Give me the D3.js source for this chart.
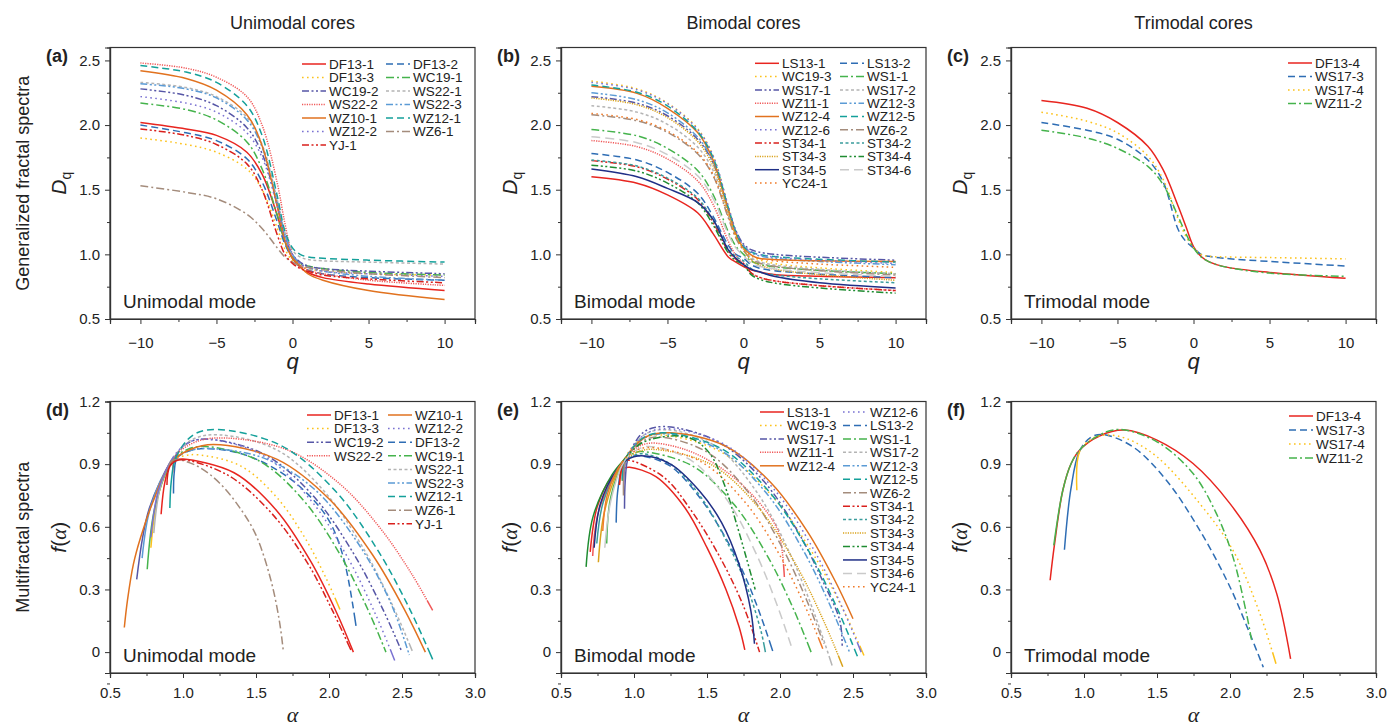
<!DOCTYPE html>
<html>
<head>
<meta charset="utf-8">
<script src="https://cdn.jsdelivr.net/npm/d3@7"></script>
<style>
body { margin: 0; background: #fff; }
svg { font-family: "Liberation Sans", Arial, sans-serif; }
.axis path, .axis line { stroke: #333; }
.axis text { font-size: 15px; fill: #222; font-family: "Liberation Sans", Arial, sans-serif; }
</style>
</head>
<body>
<script>
var qGrid = [-10, -7, -5, -3, -2, -1, -0.5, 0, 0.5, 1, 2, 5, 10];

// ---- generalized dimensions D(q) ----
var uniNames = ["DF13-1", "DF13-2", "DF13-3", "WC19-1", "WC19-2", "WS22-1", "WS22-2",
	"WS22-3", "WZ10-1", "WZ12-1", "WZ12-2", "WZ6-1", "YJ-1"];
var uniDq = [
	[2.02, 1.97, 1.92, 1.79, 1.62, 1.30, 1.10, 0.97, 0.90, 0.86, 0.82, 0.77, 0.72],
	[2.00, 1.94, 1.88, 1.74, 1.56, 1.25, 1.08, 0.97, 0.91, 0.88, 0.85, 0.82, 0.80],
	[1.90, 1.85, 1.79, 1.66, 1.50, 1.20, 1.04, 0.95, 0.91, 0.89, 0.87, 0.85, 0.84],
	[2.17, 2.12, 2.04, 1.87, 1.66, 1.30, 1.10, 0.98, 0.93, 0.91, 0.89, 0.86, 0.84],
	[2.28, 2.23, 2.15, 1.98, 1.78, 1.38, 1.14, 1.00, 0.94, 0.91, 0.89, 0.87, 0.85],
	[2.33, 2.29, 2.22, 2.06, 1.85, 1.42, 1.17, 1.03, 0.98, 0.96, 0.95, 0.94, 0.925],
	[2.48, 2.44, 2.37, 2.22, 2.00, 1.55, 1.24, 1.00, 0.92, 0.88, 0.85, 0.80, 0.76],
	[2.32, 2.28, 2.21, 2.04, 1.83, 1.40, 1.15, 1.00, 0.93, 0.90, 0.87, 0.83, 0.80],
	[2.42, 2.36, 2.27, 2.08, 1.84, 1.37, 1.11, 0.97, 0.91, 0.85, 0.80, 0.72, 0.65],
	[2.46, 2.41, 2.33, 2.15, 1.92, 1.45, 1.18, 1.05, 1.00, 0.98, 0.97, 0.955, 0.94],
	[2.22, 2.17, 2.10, 1.94, 1.75, 1.37, 1.13, 1.00, 0.93, 0.90, 0.87, 0.85, 0.83],
	[1.53, 1.48, 1.43, 1.31, 1.20, 1.05, 0.98, 0.94, 0.91, 0.90, 0.88, 0.85, 0.82],
	[1.97, 1.92, 1.85, 1.70, 1.50, 1.15, 1.00, 0.93, 0.89, 0.87, 0.84, 0.81, 0.78]
];

var biNames = ["LS13-1", "LS13-2", "WC19-3", "WS1-1", "WS17-1", "WS17-2", "WZ11-1", "WZ12-3",
	"WZ12-4", "WZ12-5", "WZ12-6", "WZ6-2", "ST34-1", "ST34-2", "ST34-3", "ST34-4", "ST34-5",
	"ST34-6", "YC24-1"];
var biDq = [
	[1.60, 1.55, 1.46, 1.32, 1.16, 0.98, 0.94, 0.906, 0.88, 0.865, 0.845, 0.83, 0.82],
	[1.78, 1.73, 1.634, 1.47, 1.294, 1.07, 1.00, 0.97, 0.92, 0.895, 0.874, 0.847, 0.82],
	[2.34, 2.28, 2.17, 1.97, 1.76, 1.37, 1.175, 1.06, 0.99, 0.96, 0.93, 0.895, 0.86],
	[1.965, 1.917, 1.82, 1.647, 1.463, 1.174, 1.063, 1.00, 0.948, 0.925, 0.904, 0.877, 0.85],
	[2.22, 2.169, 2.072, 1.889, 1.707, 1.354, 1.183, 1.08, 1.036, 1.018, 1.00, 0.978, 0.955],
	[2.15, 2.10, 2.006, 1.828, 1.65, 1.306, 1.14, 1.04, 0.974, 0.945, 0.918, 0.884, 0.85],
	[1.88, 1.833, 1.738, 1.567, 1.386, 1.101, 0.992, 0.93, 0.857, 0.825, 0.796, 0.758, 0.72],
	[2.25, 2.196, 2.095, 1.905, 1.715, 1.346, 1.167, 1.06, 1.011, 0.99, 0.97, 0.945, 0.92],
	[2.30, 2.245, 2.13, 1.94, 1.73, 1.345, 1.16, 1.05, 0.996, 0.97, 0.96, 0.95, 0.945],
	[2.31, 2.254, 2.148, 1.948, 1.748, 1.36, 1.173, 1.06, 1.018, 1.00, 0.983, 0.962, 0.94],
	[2.33, 2.273, 2.166, 1.965, 1.763, 1.372, 1.183, 1.07, 1.021, 1.00, 0.98, 0.955, 0.93],
	[2.08, 2.033, 1.944, 1.776, 1.608, 1.282, 1.125, 1.03, 0.964, 0.935, 0.908, 0.874, 0.84],
	[1.725, 1.677, 1.582, 1.423, 1.248, 1.025, 0.962, 0.93, 0.857, 0.825, 0.796, 0.758, 0.72],
	[1.73, 1.683, 1.59, 1.434, 1.262, 1.044, 0.981, 0.95, 0.89, 0.865, 0.841, 0.811, 0.78],
	[2.21, 2.157, 2.058, 1.871, 1.684, 1.321, 1.145, 1.04, 0.956, 0.92, 0.886, 0.843, 0.80],
	[1.69, 1.644, 1.551, 1.397, 1.228, 1.012, 0.951, 0.92, 0.843, 0.81, 0.779, 0.74, 0.70],
	[1.66, 1.60, 1.51, 1.40, 1.27, 1.035, 0.97, 0.92, 0.885, 0.867, 0.83, 0.78, 0.74],
	[1.91, 1.864, 1.772, 1.606, 1.432, 1.156, 1.05, 0.99, 0.934, 0.91, 0.888, 0.859, 0.83],
	[2.09, 2.043, 1.954, 1.786, 1.618, 1.292, 1.135, 1.04, 0.991, 0.97, 0.95, 0.925, 0.90]
];

var triNames = ["DF13-4", "WS17-3", "WS17-4", "WZ11-2"];
var triDq = [
	[2.19, 2.13, 2.02, 1.836, 1.655, 1.37, 1.216, 1.06, 0.983, 0.944, 0.905, 0.86, 0.815],
	[2.02, 1.96, 1.89, 1.73, 1.56, 1.19, 1.10, 1.05, 1.00, 0.985, 0.97, 0.945, 0.91],
	[2.10, 2.03, 1.94, 1.76, 1.58, 1.27, 1.14, 1.05, 1.00, 0.985, 0.98, 0.975, 0.965],
	[1.96, 1.90, 1.82, 1.68, 1.54, 1.29, 1.16, 1.05, 0.98, 0.944, 0.905, 0.855, 0.83]
];

// ---- multifractal spectra, [alpha, f(alpha)] ----
var uniFa = [
	[[0.85, 0.66], [0.875, 0.81], [0.92, 0.915], [0.96, 0.922], [1.0, 0.925], [1.35, 0.859], [1.642, 0.677], [1.875, 0.434], [2.05, 0.192], [2.167, 0.0]],
	[[0.935, 0.76], [0.94, 0.86], [0.96, 0.93], [1.05, 0.965], [1.15, 0.975], [1.4, 0.95], [1.65, 0.87], [1.85, 0.76], [2.0, 0.63], [2.1, 0.45], [2.185, 0.126]],
	[[0.78, 0.50], [0.83, 0.75], [0.93, 0.92], [1.01, 0.94], [1.1, 0.945], [1.393, 0.892], [1.636, 0.746], [1.831, 0.552], [1.978, 0.357], [2.075, 0.204]],
	[[0.755, 0.397], [0.81, 0.70], [0.93, 0.92], [1.03, 0.97], [1.15, 0.985], [1.522, 0.915], [1.832, 0.721], [2.08, 0.462], [2.266, 0.204], [2.39, 0.0]],
	[[0.683, 0.348], [0.77, 0.69], [0.93, 0.92], [1.03, 1.0], [1.15, 1.02], [1.555, 0.948], [1.893, 0.747], [2.163, 0.478], [2.365, 0.211], [2.50, 0.0]],
	[[0.80, 0.57], [0.845, 0.79], [0.93, 0.93], [1.07, 1.02], [1.25, 1.04], [1.646, 0.967], [1.976, 0.763], [2.24, 0.491], [2.438, 0.22], [2.57, 0.006]],
	[[0.93, 0.86], [0.935, 0.91], [0.96, 0.95], [1.1, 1.01], [1.3, 1.025], [1.723, 0.966], [2.076, 0.804], [2.358, 0.587], [2.569, 0.371], [2.71, 0.20]],
	[[0.72, 0.45], [0.78, 0.70], [0.93, 0.92], [1.03, 0.96], [1.15, 0.975], [1.55, 0.93], [1.9, 0.78], [2.2, 0.52], [2.42, 0.24], [2.55, -0.014]],
	[[0.598, 0.118], [0.62, 0.25], [0.66, 0.42], [0.71, 0.55], [0.80, 0.73], [0.92, 0.91], [1.05, 0.97], [1.21, 0.994], [1.645, 0.923], [2.008, 0.728], [2.298, 0.466], [2.515, 0.206], [2.66, 0.0]],
	[[0.91, 0.69], [0.92, 0.82], [0.95, 0.93], [1.07, 1.04], [1.23, 1.066], [1.674, 0.988], [2.044, 0.771], [2.34, 0.481], [2.562, 0.193], [2.71, -0.035]],
	[[0.78, 0.55], [0.83, 0.77], [0.93, 0.93], [1.03, 1.0], [1.15, 1.02], [1.54, 0.945], [1.865, 0.736], [2.125, 0.457], [2.32, 0.179], [2.45, -0.04]],
	[[0.90, 0.88], [0.92, 0.915], [0.96, 0.922], [1.1, 0.89], [1.25, 0.81], [1.4, 0.68], [1.5, 0.56], [1.6, 0.35], [1.66, 0.15], [1.687, 0.006]],
	[[0.89, 0.80], [0.91, 0.89], [0.97, 0.92], [1.3, 0.85], [1.6, 0.67], [1.85, 0.43], [2.03, 0.19], [2.15, 0.01]]
];

var biFa = [
	[[0.70, 0.48], [0.75, 0.70], [0.85, 0.84], [0.93, 0.88], [0.97, 0.885], [1.15, 0.84], [1.35, 0.69], [1.5, 0.50], [1.63, 0.30], [1.72, 0.12], [1.759, 0.011]],
	[[0.878, 0.62], [0.89, 0.78], [0.93, 0.91], [0.98, 0.935], [1.05, 0.94], [1.25, 0.89], [1.45, 0.74], [1.6, 0.58], [1.75, 0.38], [1.87, 0.17], [1.95, 0.005]],
	[[0.92, 0.82], [0.925, 0.88], [0.94, 0.93], [1.03, 1.01], [1.15, 1.04], [1.578, 0.965], [1.934, 0.757], [2.219, 0.479], [2.433, 0.203], [2.575, -0.016]],
	[[0.813, 0.52], [0.84, 0.74], [0.93, 0.91], [0.99, 0.95], [1.05, 0.96], [1.399, 0.892], [1.69, 0.703], [1.922, 0.45], [2.097, 0.199], [2.213, 0.0]],
	[[0.935, 0.687], [0.94, 0.82], [0.96, 0.93], [1.06, 1.05], [1.2, 1.08], [1.568, 1.01], [1.874, 0.83], [2.12, 0.58], [2.3, 0.33], [2.41, 0.15], [2.426, 0.03]],
	[[0.92, 0.84], [0.925, 0.89], [0.945, 0.93], [1.07, 1.04], [1.22, 1.065], [1.561, 0.985], [1.845, 0.762], [2.073, 0.465], [2.243, 0.17], [2.357, -0.064]],
	[[0.717, 0.46], [0.76, 0.68], [0.92, 0.91], [1.0, 0.97], [1.1, 1.0], [1.35, 0.97], [1.6, 0.88], [1.8, 0.76], [1.95, 0.63], [2.0, 0.55], [2.03, 0.36]],
	[[0.92, 0.83], [0.925, 0.88], [0.945, 0.93], [1.06, 1.02], [1.2, 1.045], [1.583, 0.971], [1.902, 0.765], [2.157, 0.49], [2.348, 0.216], [2.476, 0.0]],
	[[0.90, 0.80], [0.91, 0.86], [0.935, 0.92], [1.08, 1.03], [1.25, 1.05], [1.625, 0.987], [1.938, 0.811], [2.188, 0.577], [2.375, 0.344], [2.5, 0.16]],
	[[0.92, 0.82], [0.925, 0.875], [0.945, 0.93], [1.06, 1.025], [1.2, 1.05], [1.599, 0.974], [1.932, 0.763], [2.198, 0.482], [2.397, 0.201], [2.53, -0.02]],
	[[0.93, 0.80], [0.935, 0.87], [0.95, 0.93], [1.07, 1.04], [1.22, 1.07], [1.621, 0.994], [1.955, 0.783], [2.222, 0.502], [2.422, 0.221], [2.556, 0.0]],
	[[0.928, 0.75], [0.93, 0.85], [0.945, 0.92], [1.04, 1.0], [1.15, 1.03], [1.495, 0.96], [1.783, 0.765], [2.013, 0.504], [2.185, 0.245], [2.30, 0.04]],
	[[0.90, 0.80], [0.91, 0.86], [0.93, 0.91], [0.95, 0.92], [1.2, 0.84], [1.4, 0.67], [1.6, 0.44], [1.75, 0.22], [1.86, 0.0]],
	[[0.745, 0.52], [0.79, 0.72], [0.90, 0.88], [0.97, 0.93], [1.05, 0.95], [1.25, 0.9], [1.45, 0.75], [1.62, 0.55], [1.77, 0.32], [1.87, 0.1], [1.9, 0.0]],
	[[0.756, 0.43], [0.80, 0.68], [0.92, 0.90], [1.03, 0.96], [1.15, 0.97], [1.534, 0.896], [1.854, 0.691], [2.11, 0.418], [2.302, 0.145], [2.43, -0.07]],
	[[0.672, 0.408], [0.72, 0.65], [0.85, 0.85], [0.93, 0.92], [1.05, 1.0], [1.25, 1.035], [1.4, 1.02], [1.52, 0.95], [1.62, 0.80], [1.70, 0.62], [1.77, 0.45], [1.83, 0.30]],
	[[0.727, 0.50], [0.77, 0.71], [0.88, 0.87], [0.95, 0.92], [1.05, 0.94], [1.25, 0.9], [1.45, 0.77], [1.6, 0.62], [1.72, 0.42], [1.8, 0.2], [1.825, 0.04]],
	[[0.80, 0.50], [0.84, 0.72], [0.93, 0.91], [1.0, 0.96], [1.1, 0.985], [1.396, 0.916], [1.643, 0.723], [1.84, 0.466], [1.988, 0.21], [2.087, 0.008]],
	[[0.786, 0.58], [0.82, 0.76], [0.92, 0.91], [1.0, 0.96], [1.1, 0.98], [1.458, 0.912], [1.756, 0.722], [1.995, 0.468], [2.174, 0.216], [2.293, 0.016]]
];

var triFa = [
	[[0.768, 0.344], [0.797, 0.511], [0.855, 0.775], [0.912, 0.903], [0.969, 0.967], [1.106, 1.035], [1.278, 1.063], [1.5, 1.015], [1.747, 0.903], [2.0, 0.711], [2.205, 0.488], [2.32, 0.28], [2.415, -0.032]],
	[[0.866, 0.49], [0.91, 0.78], [0.969, 0.962], [1.05, 1.03], [1.13, 1.042], [1.335, 0.983], [1.564, 0.823], [1.793, 0.583], [2.0, 0.312], [2.136, 0.088], [2.228, -0.072]],
	[[0.951, 0.775], [0.969, 0.959], [1.05, 1.02], [1.15, 1.04], [1.3, 1.02], [1.5, 0.935], [1.793, 0.711], [2.02, 0.488], [2.205, 0.184], [2.315, -0.056]],
	[[0.793, 0.511], [0.855, 0.775], [0.912, 0.903], [0.969, 0.967], [1.106, 1.04], [1.244, 1.066], [1.5, 1.007], [1.747, 0.855], [1.907, 0.663], [2.02, 0.456], [2.113, 0.184], [2.147, 0.06]]
];

// legend columns of the lower panels
var uniFaLegend = [["DF13-1", "DF13-3", "WC19-2", "WS22-2"],
	["WZ10-1", "WZ12-2", "DF13-2", "WC19-1", "WS22-1", "WS22-3", "WZ12-1", "WZ6-1", "YJ-1"]];
var biFaLegend = [["LS13-1", "WC19-3", "WS17-1", "WZ11-1", "WZ12-4"],
	["WZ12-6", "LS13-2", "WS1-1", "WS17-2", "WZ12-3", "WZ12-5", "WZ6-2", "ST34-1", "ST34-2",
		"ST34-3", "ST34-4", "ST34-5", "ST34-6", "YC24-1"]];

// axis ticks
var qTicks = [-10, -5, 0, 5, 10];
var qMinor = [-7.5, -2.5, 2.5, 7.5];
var dqTicks = [0.5, 1.0, 1.5, 2.0, 2.5];
var dqMinor = [0.75, 1.25, 1.75, 2.25];
var alphaTicks = [0.5, 1.0, 1.5, 2.0, 2.5, 3.0];
var alphaMinor = [0.75, 1.25, 1.75, 2.25, 2.75];
var faTicks = [0, 0.3, 0.6, 0.9, 1.2];
var faMinor = [-0.15, 0.15, 0.45, 0.75, 1.05];

// line style of every sample: colour + dash type
var dashes = {
	solid: null,
	dash: "7,4",
	dot: "1.6,3.4",
	dashdot: "8,3,2,3",
	dashdotdot: "7,2.5,2,2.5,2,2.5",
	shortdash: "3,2.5",
	fine: "1.2,1.2",
	longdash: "9,5"
};
var styles = {
	"DF13-1": ["#e8251f", "solid"], "DF13-2": ["#2e6db4", "dash"], "DF13-3": ["#fcc21b", "dot"],
	"WC19-1": ["#45b34c", "dashdot"], "WC19-2": ["#5656a6", "dashdotdot"], "WS22-1": ["#b4b4b4", "shortdash"],
	"WS22-2": ["#f05858", "fine"], "WS22-3": ["#5b9bd5", "dashdotdot"], "WZ10-1": ["#e1721f", "solid"],
	"WZ12-1": ["#14a09a", "dash"], "WZ12-2": ["#7a72d2", "dot"], "WZ6-1": ["#a48c7c", "dashdot"],
	"YJ-1": ["#d9201c", "dashdotdot"],
	"LS13-1": ["#e8251f", "solid"], "LS13-2": ["#2e6db4", "dash"], "WC19-3": ["#fcc21b", "dot"],
	"WS1-1": ["#45b34c", "dashdot"], "WS17-1": ["#5656a6", "dashdotdot"], "WS17-2": ["#b4b4b4", "shortdash"],
	"WZ11-1": ["#f05858", "fine"], "WZ12-3": ["#5b9bd5", "dashdotdot"], "WZ12-4": ["#e1721f", "solid"],
	"WZ12-5": ["#14a09a", "dash"], "WZ12-6": ["#7a72d2", "dot"], "WZ6-2": ["#a48c7c", "dashdot"],
	"ST34-1": ["#d9201c", "dashdotdot"], "ST34-2": ["#3a9c9c", "shortdash"], "ST34-3": ["#d9a21b", "fine"],
	"ST34-4": ["#1f8c31", "dashdotdot"], "ST34-5": ["#1f2f86", "solid"], "ST34-6": ["#cacaca", "longdash"],
	"YC24-1": ["#f07b2a", "dot"],
	"DF13-4": ["#e8251f", "solid"], "WS17-3": ["#2e6db4", "dash"], "WS17-4": ["#fcc21b", "dot"],
	"WZ11-2": ["#45b34c", "dashdot"]
};

var W = 365, H = 271.5;
var colLeft = [110, 561, 1011];
var rowTop = [47.5, 401.5];

var svg = d3.select("body").append("svg")
	.attr("width", 1387)
	.attr("height", 728);

function fmtMinus(d) {
	return d < 0 ? "\u2212" + Math.abs(d) : String(d);
}

// Origin draws the densely sampled ends of a spectrum as a solid line,
// so keep the rising branch and the last few pixels solid, dashes in between
function spectrumDash(node, pattern, xStop) {
	var L = node.getTotalLength();
	var lo = 0, hi = L;
	for (var k = 0; k < 30; k++) {
		var mid = (lo + hi) / 2;
		if (node.getPointAtLength(mid).x < xStop) lo = mid; else hi = mid;
	}
	var arr = [lo, 0];
	var pat = pattern.split(",").map(Number);
	var pos = lo;
	while (pos < L - 14) {
		for (var i = 0; i < pat.length; i++) { arr.push(pat[i]); pos += pat[i]; }
	}
	arr.push(L, 0);
	return arr.join(",");
}

// draws one panel: frame, curves, axes, legend, texts
function drawPanel(cfg) {
	var g = svg.append("g")
		.attr("transform", "translate(" + cfg.left + "," + cfg.top + ")");

	var x = d3.scaleLinear().domain(cfg.xDomain).range([0, W]);
	var y = d3.scaleLinear().domain(cfg.yDomain).range([H, 0]);

	var line = d3.line()
		.x(function(d) { return x(d[0]); })
		.y(function(d) { return y(d[1]); })
		.curve(d3.curveCatmullRom.alpha(0.5));

	// curves
	g.selectAll(".curve")
		.data(cfg.series)
		.enter().append("path")
		.attr("class", "curve")
		.attr("d", function(d) { return line(d.points); })
		.attr("fill", "none")
		.attr("stroke", function(d) { return styles[d.name][0]; })
		.attr("stroke-width", 1.5)
		.attr("stroke-dasharray", function(d) {
			var pat = dashes[styles[d.name][1]];
			if (!pat || cfg.kind == "dq") return pat;
			// end of the rising branch: first point at f >= 0.9
			var p = d.points.find(function(v) { return v[1] >= 0.9; }) || d.points[0];
			return spectrumDash(this, pat, x(p[0]));
		});

	// frame
	g.append("rect")
		.attr("width", W)
		.attr("height", H)
		.attr("fill", "none")
		.attr("stroke", "#333")
		.attr("stroke-width", 1.2);

	// axes (major + minor ticks, outward)
	g.append("g").attr("class", "axis")
		.attr("transform", "translate(0," + H + ")")
		.call(d3.axisBottom(x).tickValues(cfg.xTicks).tickSize(5).tickPadding(cfg.xPad).tickFormat(cfg.xFmt));
	g.append("g").attr("class", "axis")
		.attr("transform", "translate(0," + H + ")")
		.call(d3.axisBottom(x).tickValues(cfg.xMinor).tickSize(3).tickFormat(""));
	g.append("g").attr("class", "axis")
		.call(d3.axisLeft(y).tickValues(cfg.yTicks).tickSize(5).tickPadding(5).tickFormat(cfg.yFmt));
	g.append("g").attr("class", "axis")
		.call(d3.axisLeft(y).tickValues(cfg.yMinor).tickSize(3).tickFormat(""));
	g.selectAll(".axis .domain").attr("stroke-width", 1.2);

	// legend
	cfg.legend.forEach(function(col, ci) {
		col.forEach(function(name, ri) {
			var lx = cfg.legX[ci], ly = cfg.legY + ri * cfg.legDy;
			g.append("line")
				.attr("x1", lx).attr("x2", lx + 24)
				.attr("y1", ly).attr("y2", ly)
				.attr("stroke", styles[name][0])
				.attr("stroke-width", 1.5)
				.attr("stroke-dasharray", dashes[styles[name][1]]);
			g.append("text")
				.attr("x", lx + 27).attr("y", ly)
				.attr("dy", "0.36em")
				.style("font-size", "13.5px")
				.style("fill", "#222")
				.text(name);
		});
	});

	// mode text
	g.append("text")
		.attr("x", 13).attr("y", H - 11.5)
		.style("font-size", "19px")
		.style("fill", "#222")
		.text(cfg.mode);

	// panel letter
	g.append("text")
		.attr("x", -64).attr("y", 14)
		.style("font-size", "18px")
		.style("font-weight", "bold")
		.style("fill", "#222")
		.text(cfg.letter);

	// axis titles
	var xt = g.append("text")
		.attr("x", W / 2).attr("y", H + cfg.xTitleY)
		.attr("text-anchor", "middle")
		.style("font-size", "22px")
		.style("font-style", "italic")
		.style("fill", "#222");
	if (cfg.kind == "dq") {
		xt.text("q");
	} else {
		xt.style("font-family", "'Liberation Serif', serif").text("\u03b1");
	}

	var yt = g.append("text")
		.attr("transform", "translate(-44," + (H / 2) + ") rotate(-90)")
		.attr("text-anchor", "middle")
		.style("font-size", "21px")
		.style("fill", "#222");
	if (cfg.kind == "dq") {
		yt.append("tspan").style("font-style", "italic").text("D");
		yt.append("tspan").attr("dy", 5).style("font-size", "14px").text("q");
	} else {
		yt.append("tspan").style("font-style", "italic").text("f");
		yt.append("tspan").text("(");
		yt.append("tspan").style("font-style", "italic")
			.style("font-family", "'Liberation Serif', serif").text("\u03b1");
		yt.append("tspan").text(")");
	}
}

function dqSeries(names, vals) {
	return names.map(function(n, i) {
		return { name: n, points: qGrid.map(function(q, j) { return [q, vals[i][j]]; }) };
	});
}
function faSeries(names, pts) {
	return names.map(function(n, i) { return { name: n, points: pts[i] }; });
}
function rowMajor(names) {
	return [names.filter(function(d, i) { return i % 2 == 0; }),
		names.filter(function(d, i) { return i % 2 == 1; })];
}

var dqFmt = d3.format(".1f");
var faFmt = function(d) { return d == 0 ? "0" : d3.format(".1f")(d); };

var dqBase = {
	kind: "dq", xDomain: [-12, 12], yDomain: [0.5, 2.6],
	xTicks: qTicks, xMinor: qMinor, yTicks: dqTicks, yMinor: dqMinor,
	xFmt: fmtMinus, yFmt: dqFmt, xPad: 13, xTitleY: 50
};
var faBase = {
	kind: "fa", xDomain: [0.5, 3.0], yDomain: [-0.1, 1.2],
	xTicks: alphaTicks, xMinor: alphaMinor, yTicks: faTicks, yMinor: faMinor,
	xFmt: d3.format(".1f"), yFmt: faFmt, xPad: 9, xTitleY: 48.5
};

drawPanel(Object.assign({}, dqBase, {
	left: colLeft[0], top: rowTop[0], letter: "(a)", mode: "Unimodal mode",
	series: dqSeries(uniNames, uniDq), legend: rowMajor(uniNames),
	legX: [192, 276], legY: 16.5, legDy: 13.5
}));
drawPanel(Object.assign({}, dqBase, {
	left: colLeft[1], top: rowTop[0], letter: "(b)", mode: "Bimodal mode",
	series: dqSeries(biNames, biDq), legend: rowMajor(biNames),
	legX: [194, 279], legY: 15.8, legDy: 13.3
}));
drawPanel(Object.assign({}, dqBase, {
	left: colLeft[2], top: rowTop[0], letter: "(c)", mode: "Trimodal mode",
	series: dqSeries(triNames, triDq), legend: [triNames],
	legX: [277], legY: 15.5, legDy: 13.5
}));
drawPanel(Object.assign({}, faBase, {
	left: colLeft[0], top: rowTop[1], letter: "(d)", mode: "Unimodal mode",
	series: faSeries(uniNames, uniFa), legend: uniFaLegend,
	legX: [197, 278], legY: 13.5, legDy: 13.6
}));
drawPanel(Object.assign({}, faBase, {
	left: colLeft[1], top: rowTop[1], letter: "(e)", mode: "Bimodal mode",
	series: faSeries(biNames, biFa), legend: biFaLegend,
	legX: [199, 282], legY: 10.5, legDy: 13.45
}));
drawPanel(Object.assign({}, faBase, {
	left: colLeft[2], top: rowTop[1], letter: "(f)", mode: "Trimodal mode",
	series: faSeries(triNames, triFa), legend: [triNames],
	legX: [278], legY: 14.5, legDy: 14
}));

// column titles
var colTitles = ["Unimodal cores", "Bimodal cores", "Trimodal cores"];
svg.selectAll(".coltitle")
	.data(colTitles)
	.enter().append("text")
	.attr("class", "coltitle")
	.attr("x", function(d, i) { return colLeft[i] + W / 2; })
	.attr("y", 29)
	.attr("text-anchor", "middle")
	.style("font-size", "18px")
	.style("fill", "#222")
	.text(function(d) { return d; });

// row titles
var rowTitles = ["Generalized fractal spectra", "Multifractal spectra"];
svg.selectAll(".rowtitle")
	.data(rowTitles)
	.enter().append("text")
	.attr("class", "rowtitle")
	.attr("transform", function(d, i) { return "translate(29," + (rowTop[i] + H / 2) + ") rotate(-90)"; })
	.attr("text-anchor", "middle")
	.style("font-size", "18px")
	.style("fill", "#222")
	.text(function(d) { return d; });
</script>
</body>
</html>
